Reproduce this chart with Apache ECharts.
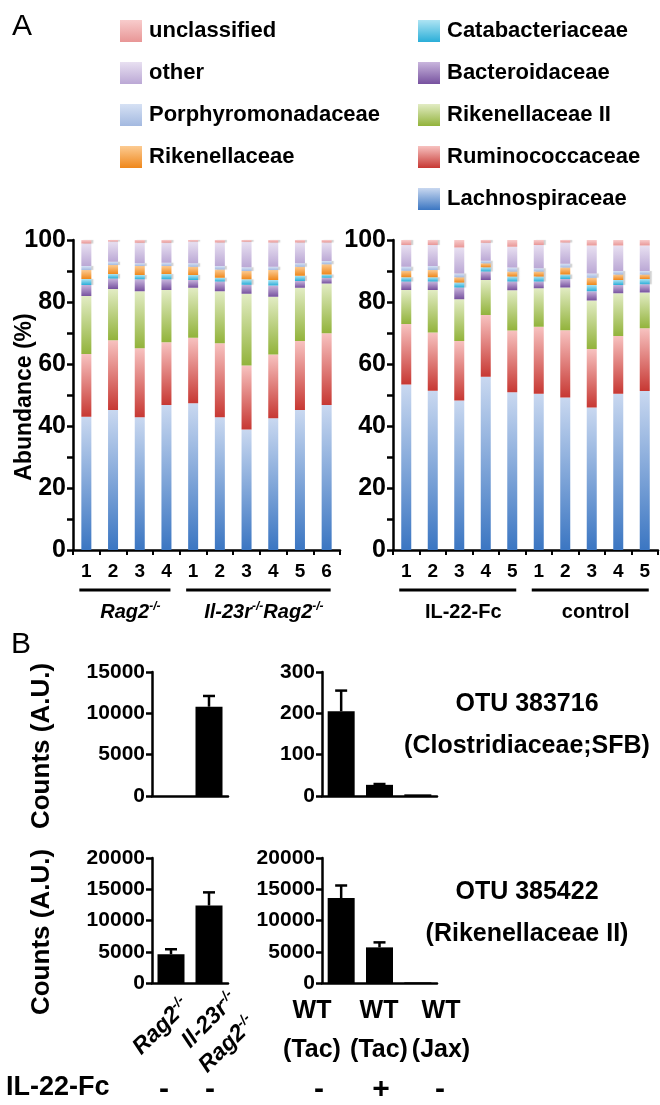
<!DOCTYPE html>
<html>
<head>
<meta charset="utf-8">
<script src="https://cdn.jsdelivr.net/npm/echarts@6.0.0/dist/echarts.min.js"></script>
<style>
html, body { margin: 0; padding: 0; background: #fff; }
#chart { width: 660px; height: 1105px; }
</style>
</head>
<body>
<div id="chart"></div>
<script>
const FONT = '"Liberation Sans", Arial, sans-serif'

// ---- panel A : relative abundance (%) per mouse, stacked bottom -> top
const families = ['Lachnospiraceae', 'Ruminococcaceae', 'Rikenellaceae II', 'Bacteroidaceae',
  'Catabacteriaceae', 'Rikenellaceae', 'Porphyromonadaceae', 'other', 'unclassified']
const legendLeft = ['unclassified', 'other', 'Porphyromonadaceae', 'Rikenellaceae']
const legendRight = ['Catabacteriaceae', 'Bacteroidaceae', 'Rikenellaceae II', 'Ruminococcaceae', 'Lachnospiraceae']

const ragMice = ['1', '2', '3', '4', '1', '2', '3', '4', '5', '6']
const il22Mice = ['1', '2', '3', '4', '5', '1', '2', '3', '4', '5']

const ragLachno = [43.0, 45.2, 42.8, 46.8, 47.3, 42.8, 38.9, 42.5, 45.2, 46.8]
const ragRumino = [20.2, 22.5, 22.3, 20.2, 21.2, 23.9, 20.6, 20.6, 22.2, 23.1]
const ragRikII = [18.7, 16.5, 18.4, 16.9, 16.1, 16.8, 23.2, 18.6, 17.2, 16.1]
const ragBactero = [3.6, 3.4, 3.8, 3.4, 2.5, 3.1, 2.9, 3.6, 2.2, 1.8]
const ragCatab = [1.9, 1.4, 1.4, 1.7, 1.6, 1.2, 1.7, 1.8, 1.7, 1.1]
const ragRiken = [2.9, 2.9, 2.9, 2.6, 2.7, 2.7, 2.7, 3.2, 2.9, 3.3]
const ragPorph = [1.3, 1.1, 0.9, 1.1, 1.1, 1.1, 1.2, 1.1, 1.1, 1.0]
const ragOther = [7.3, 6.5, 6.6, 6.4, 7.0, 7.6, 8.2, 7.8, 6.7, 6.0]
const ragUncl = [1.1, 0.5, 0.9, 0.9, 0.5, 0.8, 0.6, 0.8, 0.8, 0.8]

const il22Lachno = [53.4, 51.4, 48.2, 55.9, 50.9, 50.4, 49.2, 46.0, 50.4, 51.3]
const il22Rumino = [19.5, 18.8, 19.2, 19.9, 19.9, 21.6, 21.7, 18.8, 18.6, 20.2]
const il22RikII = [11.0, 13.7, 13.5, 11.3, 13.0, 12.4, 13.8, 15.7, 13.8, 11.6]
const il22Bactero = [2.7, 2.7, 3.8, 2.7, 2.8, 2.2, 2.7, 3.0, 2.7, 2.6]
const il22Catab = [1.4, 1.4, 1.6, 1.4, 1.6, 1.6, 1.5, 2.0, 1.6, 1.7]
const il22Riken = [2.1, 2.3, 1.7, 1.3, 1.6, 1.6, 2.2, 2.3, 1.8, 1.5]
const il22Porph = [1.3, 1.3, 1.2, 0.8, 1.3, 1.1, 1.2, 1.4, 1.1, 1.1]
const il22Other = [7.0, 6.8, 8.4, 5.8, 6.7, 7.5, 6.9, 9.0, 8.2, 8.2]
const il22Uncl = [1.6, 1.6, 2.4, 0.9, 2.2, 1.6, 0.8, 1.8, 1.8, 1.8]

const ragStack = [ragLachno, ragRumino, ragRikII, ragBactero, ragCatab, ragRiken, ragPorph, ragOther, ragUncl]
const il22Stack = [il22Lachno, il22Rumino, il22RikII, il22Bactero, il22Catab, il22Riken, il22Porph, il22Other, il22Uncl]

// mouse groups under the x axes (first index, last index)
const ragGroups = [[0, 3], [4, 9]]
const ragGroupNames = ['{i|Rag2}{s|-/-}', '{i|Il-23r}{s|-/-}{i|Rag2}{s|-/-}']
const il22Groups = [[0, 4], [5, 9]]
const il22GroupNames = ['IL-22-Fc', 'control']

// ---- panel B : OTU counts (A.U.), mean and upper SEM
const ragStrains = ['Rag2', 'Il-23r Rag2']
const ragStrainLabels = ['{i|Rag2}{s|-/-}', '{i|Il-23r}{s|-/-}', '{i|Rag2}{s|-/-}']
const wtMice = ['WT (Tac)', 'WT (Tac)', 'WT (Jax)']
const sfbRag = [0, 10800]
const sfbRagErr = [0, 1300]
const sfbWt = [205, 27, 4]
const sfbWtErr = [50, 2, 0]
const rikRag = [4600, 12400]
const rikRagErr = [800, 2100]
const rikWt = [13600, 5700, 100]
const rikWtErr = [2000, 800, 0]
const il22Treat = ['-', '-', '-', '+', '-']

// gradient colors (top, bottom) in stack order
const palette = [
  ['#c9d8f0', '#3b76c2'], ['#f7c2c0', '#c73833'], ['#e2ecc4', '#92b33b'],
  ['#c9b6dd', '#77529f'], ['#aee4f3', '#2aaed8'], ['#fccb92', '#ef871b'],
  ['#d6e1f4', '#a3b9e0'], ['#e8e0f1', '#bba8d5'], ['#f8cccc', '#e89696']
]

const grad = (c) => new echarts.graphic.LinearGradient(0, 0, 0, 1, [
  { offset: 0, color: c[0] }, { offset: 1, color: c[1] }
])

const chart = echarts.init(document.getElementById('chart'))

const axisLineStyle = { color: '#000', width: 2.5 }

const catAxis = (gi, data, extra) => Object.assign({
  type: 'category', gridIndex: gi, data,
  axisLine: { lineStyle: axisLineStyle },
  axisTick: { show: false },
  axisLabel: { show: false }
}, extra || {})

const valAxis = (gi, max, interval, extra) => Object.assign({
  type: 'value', gridIndex: gi, min: 0, max, interval,
  axisLine: { show: true, lineStyle: axisLineStyle },
  axisTick: { show: true, length: 6, lineStyle: { width: 2.5, color: '#000' } },
  splitLine: { show: false },
  axisLabel: { color: '#000', fontFamily: FONT, fontWeight: 'bold', fontSize: 21, margin: 7,
    formatter: (v) => String(v) }
}, extra || {})

const aLabel = { color: '#000', fontFamily: FONT, fontWeight: 'bold', fontSize: 19, interval: 0, margin: 12 }
const aTick = { show: true, length: 5, lineStyle: { width: 2, color: '#000' } }
const aYLabel = { color: '#000', fontFamily: FONT, fontWeight: 'bold', fontSize: 25, margin: 7,
  formatter: (v) => v % 20 === 0 ? String(v) : '' }

const stackSeries = []
families.forEach((name, k) => {
  const style = {
    color: grad(palette[k]),
    shadowColor: 'rgba(0,0,0,0.18)', shadowBlur: 1, shadowOffsetX: 2
  }
  stackSeries.push({ name, type: 'bar', stack: 'rag', xAxisIndex: 0, yAxisIndex: 0,
    barWidth: 10, itemStyle: style, data: ragStack[k] })
  stackSeries.push({ name, type: 'bar', stack: 'il22', xAxisIndex: 1, yAxisIndex: 1,
    barWidth: 10, itemStyle: style, data: il22Stack[k] })
})

const blackBar = (ai, data) => ({
  type: 'bar', xAxisIndex: ai, yAxisIndex: ai, barWidth: 27,
  itemStyle: { color: '#000' }, data
})

const errorBars = (ai, means, errs) => ({
  type: 'custom', xAxisIndex: ai, yAxisIndex: ai, z: 5,
  data: means.map((m, i) => [i, m, m + errs[i], errs[i]]),
  renderItem: (params, api) => {
    if (!api.value(3)) return null
    const lo = api.coord([api.value(0), api.value(1)])
    const hi = api.coord([api.value(0), api.value(2)])
    const st = { stroke: '#000', lineWidth: 2.5 }
    return { type: 'group', children: [
      { type: 'line', shape: { x1: lo[0], y1: lo[1], x2: hi[0], y2: hi[1] }, style: st },
      { type: 'line', shape: { x1: hi[0] - 6, y1: hi[1], x2: hi[0] + 6, y2: hi[1] }, style: st }
    ] }
  }
})

const supRich = (size) => ({
  i: { fontFamily: FONT, fontWeight: 'bold', fontStyle: 'italic', fontSize: size, fill: '#000', color: '#000', lineHeight: size + 2 },
  s: { fontFamily: FONT, fontWeight: 'bold', fontStyle: 'italic', fontSize: Math.round(size * 0.6), fill: '#000', color: '#000', verticalAlign: 'top', lineHeight: size + 2 }
})

const legendBase = {
  orient: 'vertical', top: 15, itemWidth: 22, itemHeight: 22, itemGap: 20,
  icon: 'rect', selectedMode: false,
  textStyle: { fontFamily: FONT, fontWeight: 'bold', fontSize: 22, color: '#000', padding: [0, 0, 0, 2] }
}

const noBounds = { outerBoundsMode: 'none' }

const option = {
  animation: false,
  backgroundColor: '#fff',
  legend: [
    Object.assign({ left: 115, data: legendLeft }, legendBase),
    Object.assign({ left: 413, data: legendRight }, legendBase)
  ],
  grid: [
    Object.assign({ left: 73, top: 240, width: 267, height: 310 }, noBounds),
    Object.assign({ left: 393, top: 240, width: 265, height: 310 }, noBounds),
    Object.assign({ left: 152, top: 672, width: 76, height: 124 }, noBounds),
    Object.assign({ left: 322, top: 672, width: 115, height: 124 }, noBounds),
    Object.assign({ left: 152, top: 858, width: 76, height: 125 }, noBounds),
    Object.assign({ left: 322, top: 858, width: 115, height: 125 }, noBounds)
  ],
  xAxis: [
    catAxis(0, ragMice, { axisTick: aTick, axisLabel: aLabel }),
    catAxis(1, il22Mice, { axisTick: aTick, axisLabel: aLabel }),
    catAxis(2, ragStrains),
    catAxis(3, wtMice),
    catAxis(4, ragStrains),
    catAxis(5, wtMice)
  ],
  yAxis: [
    valAxis(0, 100, 10, { axisLabel: aYLabel }),
    valAxis(1, 100, 10, { axisLabel: aYLabel }),
    valAxis(2, 15000, 5000),
    valAxis(3, 300, 100),
    valAxis(4, 20000, 5000),
    valAxis(5, 20000, 5000)
  ],
  series: stackSeries.concat([
    blackBar(2, sfbRag), errorBars(2, sfbRag, sfbRagErr),
    blackBar(3, sfbWt), errorBars(3, sfbWt, sfbWtErr),
    blackBar(4, rikRag), errorBars(4, rikRag, rikRagErr),
    blackBar(5, rikWt), errorBars(5, rikWt, rikWtErr)
  ])
}

chart.setOption(option)

// annotations: axis titles, group brackets under panel A, labels of panel B
const txt = (x, y, text, size, extra) => ({
  type: 'text', x, y, silent: true,
  style: Object.assign({ text, fontFamily: FONT, fontWeight: 'bold', fontSize: size, fill: '#000',
    align: 'center', verticalAlign: 'middle' }, extra || {})
})
const vtxt = (x, y, text, size) => Object.assign(txt(x, y, text, size), { rotation: Math.PI / 2 })

const graphics = [
  txt(22, 27, 'A', 30, { fontWeight: 'normal' }),
  txt(21, 645, 'B', 30, { fontWeight: 'normal' }),
  vtxt(25, 397, 'Abundance (%)', 23),
  vtxt(42, 746, 'Counts (A.U.)', 26),
  vtxt(42, 932, 'Counts (A.U.)', 26)
]

const bracket = (axisIdx, groups, names, italic) => {
  groups.forEach((g, k) => {
    const x0 = chart.convertToPixel({ xAxisIndex: axisIdx }, g[0])
    const x1 = chart.convertToPixel({ xAxisIndex: axisIdx }, g[1])
    graphics.push({ type: 'line', silent: true,
      shape: { x1: x0 - 7, y1: 590, x2: x1 + 4, y2: 590 },
      style: { stroke: '#000', lineWidth: 3 } })
    graphics.push(txt((x0 + x1) / 2 + 4, 612, names[k], 20, italic ? { rich: supRich(20) } : {}))
  })
}
bracket(0, ragGroups, ragGroupNames, true)
bracket(1, il22Groups, il22GroupNames, false)

// rotated strain labels under the lower-left chart
const strainAnchors = [[186, 1002], [234, 996], [252, 1020]]
ragStrainLabels.forEach((s, i) => {
  graphics.push(Object.assign(txt(strainAnchors[i][0], strainAnchors[i][1], s, 23,
    { rich: supRich(23), align: 'right' }), { rotation: Math.PI / 4 }))
})

graphics.push(txt(527, 704, 'OTU 383716', 25))
graphics.push(txt(527, 746, '(Clostridiaceae;SFB)', 25))
graphics.push(txt(527, 892, 'OTU 385422', 25))
graphics.push(txt(527, 934, '(Rikenellaceae II)', 25))

const wtX = [312, 379, 441]
wtMice.forEach((m, i) => {
  const parts = m.split(' ')
  graphics.push(txt(wtX[i], 1011, parts[0], 25))
  graphics.push(txt(wtX[i], 1050, parts[1], 25))
})

graphics.push(txt(6, 1088, 'IL-22-Fc', 27, { align: 'left' }))
const signX = [164, 210, 319, 381, 440]
il22Treat.forEach((s, i) => {
  graphics.push(txt(signX[i], 1090, s, 30))
})

chart.setOption({ graphic: graphics })
</script>
</body>
</html>
